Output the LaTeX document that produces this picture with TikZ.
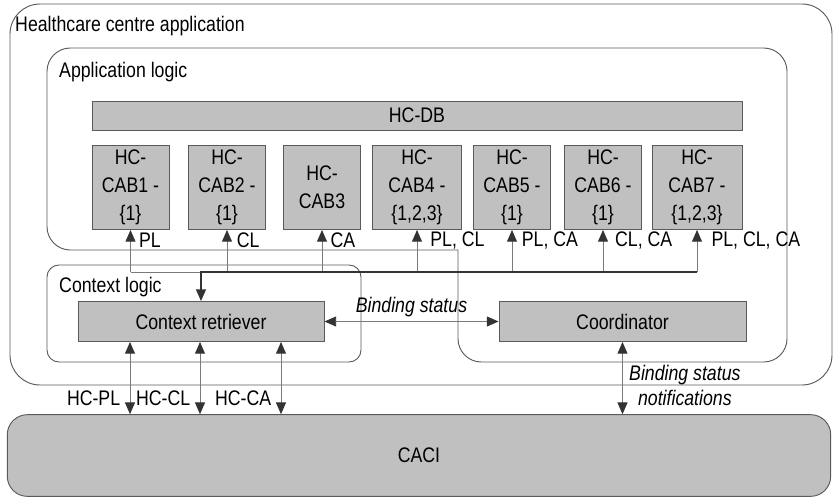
\documentclass[tikz,border=0pt]{standalone}
\usepackage{fontspec}
\setmainfont{Liberation Sans}[FakeStretch=0.84]
\usetikzlibrary{arrows.meta}
\definecolor{boxfill}{HTML}{C0C0C0}
\definecolor{boxline}{HTML}{5A5A5A}
\definecolor{wire}{HTML}{7A7A7A}
\definecolor{tipcol}{HTML}{333333}
\begin{document}
\begin{tikzpicture}[x=0.03cm,y=-0.03cm,
  font=\fontsize{18}{21}\selectfont,
  >={Triangle[length=10pt,width=8.5pt,color=tipcol]},
  frame/.style={draw=boxline,line width=0.8pt},
  unit/.style={draw=boxline,fill=boxfill,line width=0.8pt,minimum height=1.2cm,align=center,inner sep=0pt},
  cab/.style={unit,minimum width=2.31cm,minimum height=2.52cm,font=\fontsize{18}{24}\selectfont},
  sig/.style={draw=wire,line width=0.8pt,->},
  sigb/.style={draw=wire,line width=0.8pt,<->},
  feed/.style={draw=tipcol,line width=1.4pt,->},
  lbl/.style={inner sep=0pt}]
\useasboundingbox (0,0) rectangle (834,497);
% containers
\draw[frame,rounded corners=0.9cm] (10,4) rectangle (832,385);
\node[lbl,anchor=west] (hca) at (15,26) {Healthcare centre application};
\draw[frame] (458,250) [rounded corners=0.7cm] -- (47,250) -- (47,48) -- (787,48) -- (787,362) -- (458,362) -- (458,250);
\node[lbl,anchor=west] (applog) at (59,72) {Application logic};
\draw[frame,rounded corners=0.36cm] (47,265) rectangle (361,362);
\node[lbl,anchor=west] (ctxlog) at (59,287) {Context logic};
% boxes
\node[unit,minimum width=19.5cm,minimum height=0.87cm] (db) at (417,115.5) {HC-DB};
\node[cab] (cab1) at (130.5,187.5) {HC-\\CAB1 -\\\{1\}};
\node[cab] (cab2) at (227,187.5) {HC-\\CAB2 -\\\{1\}};
\node[cab] (cab3) at (322,187.5) {HC-\\CAB3};
\node[cab,minimum width=2.67cm] (cab4) at (417,187.5) {HC-\\CAB4 -\\\{1,2,3\}};
\node[cab] (cab5) at (512,187.5) {HC-\\CAB5 -\\\{1\}};
\node[cab] (cab6) at (603,187.5) {HC-\\CAB6 -\\\{1\}};
\node[cab,minimum width=2.7cm] (cab7) at (697,187.5) {HC-\\CAB7 -\\\{1,2,3\}};
\node[unit,minimum width=7.38cm] (retr) at (201,321.5) {Context retriever};
\node[unit,minimum width=7.41cm] (coord) at (622.5,321.5) {Coordinator};
\node[unit,rounded corners=0.6cm,minimum width=24.7cm,minimum height=2.45cm] (caci) at (419,455.5) {CACI};
% bus to the CABs
\coordinate (bus) at (0,272);
\draw[draw=wire,line width=0.8pt] (cab1.south |- bus) -- (retr.north |- bus);
\foreach \c/\t/\s in {1/PL/7,2/CL/8,3/CA/7,4/{PL, CL}/11,5/{PL, CA}/8,6/{CL, CA}/10,7/{PL, CL, CA}/12}
  \draw[sig] (cab\c.south |- bus) -- (cab\c.south) node[lbl,right,pos=0.76,xshift=\s pt] {\t};
\draw[feed] (cab7.south |- bus) -- (retr.north |- bus) -- (retr.north);
% to CACI
\foreach \x/\t in {130/HC-PL,200/HC-CL,281/HC-CA}
  \draw[sigb] (retr.south -| \x,0) -- (caci.north -| \x,0) node[lbl,left,pos=0.78,xshift=-8pt] {\t};
\draw[sigb] (retr.east) -- (coord.west) node[midway,above,font=\fontsize{18}{21}\itshape] {Binding status};
\draw[sigb] (coord.south) -- (caci.north -| coord.south) node[pos=0.6,right,align=center,xshift=2pt,font=\fontsize{18}{21}\itshape] {Binding status\\notifications};
\end{tikzpicture}
\end{document}
